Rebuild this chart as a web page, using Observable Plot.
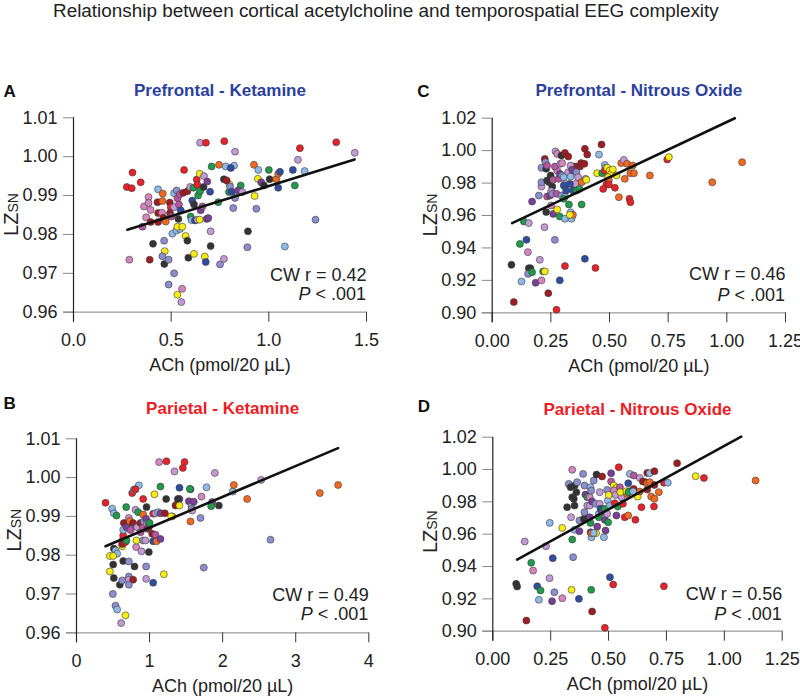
<!DOCTYPE html>
<html><head><meta charset="utf-8">
<script src="https://cdn.jsdelivr.net/npm/d3@7"></script>
<script src="https://cdn.jsdelivr.net/npm/@observablehq/plot@0.6"></script>
<style>
body{margin:0;background:#fff;font-family:"Liberation Sans",Arial,sans-serif;}
#wrap{position:relative;width:800px;height:696px;overflow:hidden;background:#fff}
.panel{position:absolute}
#title{position:absolute;left:53px;top:1px;font-size:18.9px;line-height:20px;color:#222;white-space:nowrap}
</style></head><body>
<div id="wrap"><div id="title">Relationship between cortical acetylcholine and temporospatial EEG complexity</div></div>
<script>
// colour keys for the individual animals / sessions
const palette = {
  r:"#e8212a", dr:"#9e1c22", o:"#f26a22", y:"#f7ec13", g:"#1f9b4b",
  lb:"#8fb9e6", b:"#2f4da0", pu:"#7a3f98", m:"#b8559f", pk:"#d585c0",
  lv:"#c39ad3", pw:"#8b8fd0", k:"#333333"
};

const xLabel = "ACh (pmol/20 µL)";
const panelTitles = ["Prefrontal - Ketamine","Parietal - Ketamine","Prefrontal - Nitrous Oxide","Parietal - Nitrous Oxide"];
const panelLetters = ["A","B","C","D"];
const statR = ["CW r = 0.42","CW r = 0.49","CW r = 0.46","CW r = 0.56"];
const statP = "< .001";

const xTicksA = [0,0.5,1,1.5];
const xTicksB = [0,1,2,3,4];
const xTicksNO = [0,0.25,0.5,0.75,1,1.25];
const yTicksK = [0.96,0.97,0.98,0.99,1.00,1.01];
const yTicksNO = [0.90,0.92,0.94,0.96,0.98,1.00,1.02];

// [ACh, LZsN, colour]
const ptsA = [[0.273,0.9922,"r"],[0.298,0.9919,"r"],[0.302,0.9959,"r"],[0.344,0.9934,"r"],[0.286,0.9735,"pk"],[0.353,0.982,"m"],[0.361,0.9872,"pk"],[0.384,0.9896,"pk"],[0.384,0.9881,"pk"],[0.372,0.9844,"pk"],[0.395,0.9863,"pk"],[0.395,0.9832,"dr"],[0.390,0.9735,"dr"],[0.407,0.9776,"k"],[0.433,0.9916,"lb"],[0.430,0.9883,"dr"],[0.433,0.9855,"dr"],[0.433,0.9832,"dr"],[0.457,0.9905,"o"],[0.455,0.9886,"o"],[0.453,0.9856,"pk"],[0.460,0.9843,"dr"],[0.472,0.9833,"o"],[0.465,0.9724,"k"],[0.467,0.9757,"y"],[0.464,0.9784,"pw"],[0.455,0.9744,"pw"],[0.487,0.9735,"pw"],[0.487,0.9671,"pw"],[0.493,0.9882,"dr"],[0.498,0.987,"r"],[0.494,0.9855,"dr"],[0.501,0.9846,"m"],[0.515,0.9906,"lb"],[0.515,0.987,"lv"],[0.528,0.9913,"pw"],[0.532,0.9893,"m"],[0.540,0.9877,"m"],[0.544,0.9903,"m"],[0.506,0.9802,"lb"],[0.527,0.981,"lb"],[0.545,0.9814,"lb"],[0.532,0.982,"y"],[0.557,0.982,"y"],[0.537,0.984,"k"],[0.549,0.9862,"b"],[0.566,0.9966,"r"],[0.562,0.9907,"dr"],[0.583,0.9911,"dr"],[0.597,0.9922,"lv"],[0.631,0.9941,"r"],[0.515,0.970,"pw"],[0.532,0.9645,"y"],[0.556,0.966,"pk"],[0.552,0.9626,"lv"],[0.574,0.9796,"y"],[0.583,0.9784,"k"],[0.588,0.974,"k"],[0.600,0.9846,"g"],[0.604,0.9837,"lb"],[0.617,0.975,"y"],[0.608,0.9887,"b"],[0.617,0.9877,"k"],[0.614,0.992,"g"],[0.634,0.9928,"r"],[0.622,0.9836,"b"],[0.634,0.9838,"lv"],[0.638,0.990,"g"],[0.648,0.9911,"g"],[0.646,0.9956,"y"],[0.646,0.9838,"y"],[0.651,0.9862,"pu"],[0.660,0.9872,"m"],[0.648,1.0036,"lv"],[0.678,1.0036,"r"],[0.666,0.9922,"k"],[0.668,0.995,"lv"],[0.685,0.9936,"pu"],[0.682,0.984,"pu"],[0.690,0.9842,"pu"],[0.699,0.991,"b"],[0.672,0.9743,"y"],[0.677,0.9729,"b"],[0.702,0.9808,"lv"],[0.702,0.977,"k"],[0.707,0.9975,"g"],[0.741,0.9883,"g"],[0.745,0.9979,"o"],[0.750,0.9723,"pw"],[0.770,0.9737,"lv"],[0.772,1.004,"r"],[0.799,0.9928,"y"],[0.779,0.9975,"lb"],[0.822,0.9977,"lb"],[0.805,0.9971,"b"],[0.770,0.9942,"k"],[0.784,0.9939,"dr"],[0.796,0.9909,"g"],[0.801,0.9923,"pw"],[0.810,0.991,"b"],[0.827,1.0013,"lv"],[0.818,0.9868,"pw"],[0.827,0.9894,"pw"],[0.856,0.9926,"g"],[0.842,0.9913,"pu"],[0.864,0.9909,"lv"],[0.924,0.9979,"o"],[0.927,0.9899,"y"],[0.946,0.9966,"lb"],[0.944,0.9943,"y"],[0.936,0.9866,"pw"],[0.961,0.9934,"pu"],[0.975,0.9926,"k"],[0.890,0.9767,"pw"],[0.893,0.9808,"k"],[1.000,0.9966,"g"],[1.004,0.9942,"k"],[1.038,0.9942,"o"],[1.048,0.9956,"o"],[1.057,0.9961,"b"],[1.048,0.992,"b"],[1.123,0.9966,"b"],[1.133,0.9926,"g"],[1.149,0.9992,"lv"],[1.159,1.0022,"r"],[1.183,0.9963,"lb"],[1.239,0.9838,"pw"],[1.082,0.9769,"lb"],[1.345,1.0037,"r"],[1.440,1.001,"lv"]];

const ptsB = [[0.397,0.9935,"r"],[0.488,0.992,"lb"],[0.511,0.9908,"lb"],[0.547,0.9902,"g"],[0.511,0.9817,"k"],[0.456,0.9798,"y"],[0.534,0.9812,"lb"],[0.556,0.9804,"lb"],[0.502,0.9798,"y"],[0.502,0.9776,"k"],[0.456,0.9758,"y"],[0.511,0.9741,"k"],[0.497,0.970,"pw"],[0.534,0.967,"pw"],[0.556,0.966,"lb"],[0.611,0.9625,"lv"],[0.670,0.9645,"y"],[0.593,0.9724,"k"],[0.625,0.9735,"pw"],[0.639,0.9785,"k"],[0.716,0.9784,"pw"],[0.794,0.9771,"k"],[0.716,0.9745,"pw"],[0.716,0.9737,"lv"],[0.775,0.9737,"dr"],[0.716,0.9724,"pw"],[0.625,0.9823,"y"],[0.639,0.9842,"dr"],[0.639,0.9851,"r"],[0.625,0.9829,"dr"],[0.670,0.9834,"r"],[0.684,0.9838,"g"],[0.639,0.9865,"lb"],[0.648,0.9883,"dr"],[0.680,0.9924,"g"],[0.702,0.9883,"dr"],[0.684,0.9872,"pu"],[0.716,0.9896,"pk"],[0.730,0.9888,"o"],[0.739,0.9865,"m"],[0.762,0.996,"r"],[0.785,0.9969,"lb"],[0.798,0.9969,"lb"],[0.853,0.998,"lb"],[0.807,0.997,"r"],[0.775,0.9883,"dr"],[0.821,0.9874,"pu"],[0.807,0.9917,"lv"],[0.844,0.9911,"g"],[0.830,0.9872,"lv"],[0.816,0.9821,"pk"],[0.889,0.981,"lv"],[0.821,0.9838,"y"],[0.876,0.9883,"dr"],[0.912,0.9945,"r"],[0.912,0.9905,"o"],[0.876,0.9859,"m"],[0.912,0.9872,"m"],[0.921,0.9887,"pw"],[0.912,0.9838,"pw"],[0.944,0.9838,"lv"],[0.953,0.9894,"pu"],[0.967,0.9868,"pu"],[0.967,0.9881,"lv"],[0.958,0.9924,"k"],[0.953,0.9771,"pw"],[0.953,0.9739,"lv"],[0.990,0.9808,"k"],[0.990,0.9872,"dr"],[0.990,0.9883,"pw"],[1.000,0.9883,"g"],[1.049,0.9836,"b"],[1.035,0.9855,"dr"],[1.081,0.9853,"m"],[1.095,0.9836,"o"],[1.049,0.9907,"r"],[1.067,0.9957,"y"],[1.049,0.9729,"b"],[1.081,0.9908,"lv"],[1.117,0.9911,"lb"],[1.149,0.9908,"pu"],[1.149,0.9842,"pu"],[1.195,0.9751,"y"],[1.131,1.004,"pk"],[1.231,1.0042,"r"],[1.149,0.9977,"g"],[1.227,0.9945,"k"],[1.209,0.9908,"dr"],[1.309,0.990,"o"],[1.295,0.990,"y"],[1.341,1.0016,"lv"],[1.455,1.0025,"r"],[1.478,1.004,"r"],[1.355,0.9928,"dr"],[1.377,0.9931,"dr"],[1.409,0.9945,"pu"],[1.387,0.9945,"k"],[1.409,0.9928,"y"],[1.409,0.9974,"b"],[1.537,0.9939,"pu"],[1.560,0.997,"b"],[1.551,0.9971,"g"],[1.574,0.9926,"lb"],[1.605,0.9938,"pu"],[1.574,0.992,"pw"],[1.583,0.9915,"lv"],[1.560,0.9887,"o"],[1.710,0.9951,"pk"],[1.697,0.9896,"pw"],[1.742,0.9768,"pw"],[1.779,0.9975,"lb"],[1.893,1.0012,"lv"],[1.856,0.9937,"pu"],[1.843,0.9926,"g"],[1.948,0.9928,"k"],[2.139,0.9964,"lb"],[2.153,0.9981,"o"],[2.335,0.9945,"o"],[2.527,0.9994,"lv"],[2.655,0.984,"pw"],[3.330,0.996,"o"],[3.580,0.9981,"o"]];

const ptsC = [[0.082,0.9296,"k"],[0.092,0.9066,"dr"],[0.125,0.9193,"lb"],[0.118,0.9425,"g"],[0.135,0.9563,"g"],[0.156,0.9553,"lv"],[0.146,0.945,"b"],[0.152,0.9374,"pk"],[0.156,0.9275,"k"],[0.163,0.9275,"k"],[0.153,0.924,"pw"],[0.170,0.925,"g"],[0.170,0.9686,"pu"],[0.185,0.9185,"pu"],[0.199,0.9723,"pw"],[0.203,0.9327,"lv"],[0.210,0.920,"pk"],[0.217,0.9255,"g"],[0.224,0.9255,"y"],[0.210,0.9894,"pw"],[0.210,0.9779,"lv"],[0.210,0.9805,"pw"],[0.223,0.9528,"lv"],[0.224,0.9949,"dr"],[0.227,0.9929,"pw"],[0.230,0.9888,"k"],[0.234,0.9908,"m"],[0.230,0.9621,"k"],[0.234,0.9816,"k"],[0.241,0.9806,"k"],[0.249,0.9826,"k"],[0.256,0.9779,"k"],[0.249,0.9847,"k"],[0.234,0.9717,"m"],[0.246,0.9723,"pu"],[0.251,0.975,"lv"],[0.251,0.9662,"pk"],[0.256,0.9734,"pw"],[0.260,0.961,"pu"],[0.267,0.945,"pw"],[0.239,0.9121,"dr"],[0.274,0.9019,"r"],[0.288,0.920,"b"],[0.310,0.9288,"r"],[0.395,0.9333,"b"],[0.440,0.9277,"r"],[0.270,0.9995,"lv"],[0.277,0.998,"pk"],[0.295,0.997,"k"],[0.310,0.9986,"dr"],[0.277,0.9877,"pk"],[0.267,0.9902,"m"],[0.260,0.982,"m"],[0.291,0.9919,"lv"],[0.298,0.9923,"pk"],[0.284,0.9826,"m"],[0.288,0.9857,"pu"],[0.298,0.9847,"pw"],[0.305,0.9836,"lb"],[0.312,0.9795,"lv"],[0.305,0.9785,"b"],[0.274,0.9734,"m"],[0.295,0.9723,"pw"],[0.310,0.9717,"lb"],[0.315,0.9754,"b"],[0.324,0.9964,"dr"],[0.324,0.9867,"lv"],[0.334,0.984,"lb"],[0.348,0.9902,"dr"],[0.359,0.9902,"dr"],[0.374,0.9902,"dr"],[0.379,0.9923,"dr"],[0.351,0.9877,"dr"],[0.334,0.9908,"lv"],[0.341,0.9882,"pu"],[0.359,0.9867,"pw"],[0.366,0.9836,"lv"],[0.355,0.9795,"lv"],[0.344,0.9754,"b"],[0.331,0.9795,"b"],[0.359,0.9754,"g"],[0.372,0.9764,"g"],[0.327,0.9668,"g"],[0.381,0.9668,"g"],[0.305,0.9703,"g"],[0.288,0.9594,"g"],[0.310,0.958,"lb"],[0.334,0.962,"lb"],[0.338,0.958,"lb"],[0.344,0.9604,"o"],[0.331,0.9604,"y"],[0.277,0.9637,"y"],[0.381,0.9805,"o"],[0.398,0.9826,"lv"],[0.401,0.982,"y"],[0.395,1.0011,"dr"],[0.405,0.9976,"dr"],[0.393,0.9919,"dr"],[0.466,1.0038,"dr"],[0.455,0.9976,"lb"],[0.447,0.9861,"y"],[0.480,0.9912,"lb"],[0.483,0.9894,"lb"],[0.469,0.9861,"g"],[0.480,0.9877,"r"],[0.490,0.9894,"y"],[0.501,0.9877,"y"],[0.507,0.9857,"y"],[0.514,0.9884,"y"],[0.530,0.9847,"y"],[0.494,0.9836,"y"],[0.497,0.9816,"o"],[0.487,0.9791,"r"],[0.497,0.9791,"r"],[0.473,0.9764,"r"],[0.523,0.9771,"r"],[0.540,0.9713,"o"],[0.550,0.9923,"o"],[0.561,0.9943,"lv"],[0.565,0.9826,"o"],[0.575,0.9919,"o"],[0.589,0.9861,"o"],[0.604,0.9861,"o"],[0.599,0.9908,"o"],[0.585,0.9703,"r"],[0.589,0.9682,"r"],[0.672,0.9847,"o"],[0.746,0.9945,"r"],[0.753,0.996,"y"],[0.938,0.9805,"o"],[1.065,0.9929,"o"]];

const ptsD = [[0.101,0.9293,"k"],[0.105,0.9276,"k"],[0.145,0.9066,"dr"],[0.138,0.9555,"lv"],[0.166,0.9423,"g"],[0.174,0.9375,"pk"],[0.192,0.9278,"b"],[0.199,0.9194,"lb"],[0.206,0.9252,"g"],[0.230,0.9526,"lv"],[0.245,0.9328,"lv"],[0.246,0.967,"lb"],[0.259,0.9452,"b"],[0.256,0.9186,"pu"],[0.266,0.9241,"pw"],[0.300,0.9204,"pk"],[0.300,0.9639,"y"],[0.321,0.9767,"k"],[0.328,0.9911,"pw"],[0.336,0.9891,"k"],[0.343,0.9829,"k"],[0.350,0.9819,"k"],[0.353,0.9777,"k"],[0.354,0.9901,"k"],[0.343,0.9998,"pk"],[0.338,0.9705,"lv"],[0.343,0.9567,"g"],[0.347,0.9458,"pw"],[0.340,0.9256,"y"],[0.353,0.9627,"lb"],[0.361,0.986,"k"],[0.364,0.9922,"pw"],[0.374,0.9685,"pw"],[0.372,0.920,"b"],[0.374,0.9619,"pu"],[0.390,0.9973,"pw"],[0.396,0.9901,"pw"],[0.393,0.9695,"k"],[0.396,0.9736,"pw"],[0.400,0.9845,"pu"],[0.408,0.9777,"lv"],[0.408,0.9829,"g"],[0.410,0.9695,"k"],[0.419,0.9705,"pu"],[0.419,0.9777,"lv"],[0.419,0.9829,"pk"],[0.422,0.9891,"lb"],[0.436,0.9932,"pw"],[0.425,0.987,"pw"],[0.429,0.9802,"pu"],[0.422,0.967,"g"],[0.422,0.9612,"pu"],[0.426,0.9581,"lb"],[0.426,0.9606,"o"],[0.425,0.9256,"g"],[0.429,0.9122,"dr"],[0.448,0.9969,"k"],[0.472,0.9957,"dr"],[0.444,0.9788,"pw"],[0.458,0.9726,"lb"],[0.462,0.986,"lv"],[0.462,0.9788,"lv"],[0.465,0.9757,"b"],[0.472,0.9736,"pu"],[0.458,0.9705,"g"],[0.451,0.9647,"pu"],[0.446,0.9606,"y"],[0.436,0.9608,"lb"],[0.480,0.9581,"lb"],[0.487,0.9623,"pu"],[0.484,0.9689,"pu"],[0.484,0.9757,"g"],[0.498,0.9674,"g"],[0.494,0.9874,"pw"],[0.494,0.9726,"lv"],[0.497,0.9808,"lb"],[0.506,0.9777,"lb"],[0.511,0.9977,"pu"],[0.511,0.9926,"m"],[0.501,0.9843,"y"],[0.506,0.9334,"b"],[0.520,0.9289,"r"],[0.484,0.9021,"r"],[0.523,0.9901,"y"],[0.533,0.9885,"y"],[0.523,0.987,"pk"],[0.549,0.9891,"m"],[0.530,0.9843,"lv"],[0.527,0.9792,"r"],[0.540,0.9771,"g"],[0.534,0.9716,"pu"],[0.544,1.0014,"r"],[0.556,0.9829,"lv"],[0.562,0.9788,"r"],[0.551,0.986,"y"],[0.570,0.9705,"r"],[0.585,0.9716,"o"],[0.580,0.9849,"o"],[0.577,0.9866,"y"],[0.592,0.9866,"g"],[0.586,0.986,"g"],[0.585,0.9915,"b"],[0.592,0.9973,"lb"],[0.609,0.988,"dr"],[0.606,0.9864,"lb"],[0.626,0.9833,"y"],[0.609,0.9963,"m"],[0.616,0.9689,"r"],[0.635,0.9864,"o"],[0.635,0.9948,"lv"],[0.648,0.9926,"dr"],[0.660,0.9922,"dr"],[0.667,0.9915,"o"],[0.678,0.9922,"o"],[0.642,0.9767,"r"],[0.667,0.9979,"dr"],[0.678,0.9977,"lb"],[0.698,0.999,"dr"],[0.667,0.9876,"dr"],[0.698,0.9905,"dr"],[0.684,0.9833,"o"],[0.698,0.9819,"o"],[0.696,0.9771,"r"],[0.717,0.986,"o"],[0.739,0.9918,"r"],[0.756,0.9918,"lb"],[0.796,1.0039,"dr"],[0.739,0.9278,"r"],[0.876,0.9959,"y"],[0.912,0.9948,"r"],[1.135,0.9932,"o"]];

// fitted CW regression lines, endpoints [ACh, LZsN]
const fitA = [[0.276,0.9812],[1.439,0.9993]];
const fitB = [[0.397,0.9823],[3.58,1.0076]];
const fitC = [[0.085,0.9553],[1.034,1.0200]];
const fitD = [[0.105,0.9443],[1.073,1.0204]];

const blueTitle = "#2b3f9e", redTitle = "#ee1c25";

const panels = [
  {i:0, pts:ptsA, fit:fitA, xd:[0,1.5], xt:xTicksA, xf:".1f", yd:[0.96,1.01], yt:yTicksK, tc:blueTitle,
   left:0, top:80, w:400, h:310, ml:73, mr:34, mt:37.3, mb:78.3, letterDx:-70, letterDy:-26, titleDy:-27, rDy:-37, pDy:-17, yLabDy:0},
  {i:1, pts:ptsB, fit:fitB, xd:[0,4], xt:xTicksB, xf:"d", yd:[0.96,1.01], yt:yTicksK, tc:redTitle,
   left:0, top:390, w:400, h:306, ml:76, mr:31.7, mt:48.3, mb:63.7, letterDx:-73, letterDy:-35, titleDy:-30, rDy:-38, pDy:-18, yLabDy:-5},
  {i:2, pts:ptsC, fit:fitC, xd:[0,1.25], xt:xTicksNO, xf:".2f", yd:[0.90,1.02], yt:yTicksNO, tc:blueTitle,
   left:400, top:80, w:400, h:310, ml:91.7, mr:15, mt:37.7, mb:77.7, letterDx:-75, letterDy:-27, titleDy:-28, rDy:-39, pDy:-17, yLabDy:0},
  {i:3, pts:ptsD, fit:fitD, xd:[0,1.25], xt:xTicksNO, xf:".2f", yd:[0.90,1.02], yt:yTicksNO, tc:redTitle,
   left:400, top:390, w:400, h:306, ml:92.3, mr:18.3, mt:46.7, mb:65.3, letterDx:-75, letterDy:-31, titleDy:-28, rDy:-37, pDy:-16.5, yLabDy:-2}
];

const FONT = "'Liberation Sans', Arial, Helvetica, sans-serif";
const wrap = document.getElementById("wrap");

for (const p of panels) {
  const data = p.pts.map(([x, y, c]) => ({x, y, c}));
  const fit = p.fit.map(([x, y]) => ({x, y}));
  const chart = Plot.plot({
    width: p.w, height: p.h,
    marginLeft: p.ml, marginRight: p.mr, marginTop: p.mt, marginBottom: p.mb,
    style: {fontFamily: FONT, fontSize: "18px", color: "#222", background: "transparent", overflow: "visible"},
    x: {domain: p.xd},
    y: {domain: p.yd},
    marks: [
      Plot.ruleY([p.yd[0]], {stroke: "#999", strokeWidth: 1.3, insetLeft: -10}),
      Plot.axisY(p.yt, {tickSize: 10, tickPadding: 6, stroke: "#888", color: "#222", fontSize: 18, label: null, tickFormat: d3.format(".2f")}),
      Plot.axisX(p.xt, {tickSize: 10, tickPadding: 11, stroke: "#333", color: "#222", fontSize: 18, label: null, tickFormat: d3.format(p.xf)}),
      Plot.ruleX([p.xd[0]], {stroke: "#222", strokeWidth: 1.2, insetBottom: -10}),
      Plot.dot(data, {x: "x", y: "y", r: 3.5, fill: d => palette[d.c], stroke: "#3a3a3a", strokeWidth: 0.6}),
      Plot.line(fit, {x: "x", y: "y", stroke: "#111", strokeWidth: 2.6}),
      Plot.text([xLabel], {frameAnchor: "bottom", dy: 53, lineAnchor: "middle", fontSize: 18, fill: "#222"}),
      Plot.text([panelTitles[p.i]], {frameAnchor: "top", dy: p.titleDy, lineAnchor: "middle", fontSize: 17, fontWeight: "bold", fill: p.tc}),
      Plot.text([panelLetters[p.i]], {frameAnchor: "top-left", dx: p.letterDx, dy: p.letterDy, textAnchor: "start", lineAnchor: "middle", fontSize: 17, fontWeight: "bold", fill: "#111"}),
      Plot.text([statR[p.i]], {frameAnchor: "bottom-right", dy: p.rDy, textAnchor: "end", lineAnchor: "middle", fontSize: 18, fill: "#222"})
    ]
  });
  const svg = d3.select(chart);
  // P value line with italic P
  const pt = svg.append("text")
    .attr("x", p.w - p.mr).attr("y", p.h - p.mb + p.pDy).attr("dy", "0.32em")
    .attr("text-anchor", "end").attr("font-size", 18).attr("fill", "#222").attr("font-family", FONT);
  pt.append("tspan").attr("font-style", "italic").text("P");
  pt.append("tspan").text(" " + statP);
  // y label LZ with SN subscript
  const cy = p.mt + (p.h - p.mt - p.mb) / 2 + p.yLabDy;
  const yl = svg.append("text")
    .attr("transform", `translate(${p.ml - 55},${cy}) rotate(-90)`)
    .attr("text-anchor", "middle").attr("fill", "#222").attr("font-family", FONT);
  yl.append("tspan").attr("font-size", 20).text("LZ");
  yl.append("tspan").attr("font-size", 14).text("SN");

  const div = document.createElement("div");
  div.className = "panel";
  div.style.left = p.left + "px";
  div.style.top = p.top + "px";
  div.appendChild(chart);
  wrap.appendChild(div);
}
</script>
</body></html>
